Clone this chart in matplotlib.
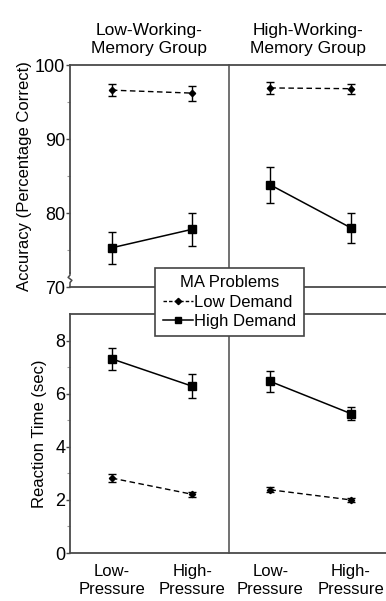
import numpy as np
import matplotlib.pyplot as plt
from matplotlib.lines import Line2D

plt.rcParams['font.family'] = ['Liberation Sans', 'DejaVu Sans']
plt.rcParams['font.size'] = 12

# Data
groups = ['Low-Working-\nMemory Group', 'High-Working-\nMemory Group']
conditions = ['Low-\nPressure', 'High-\nPressure']

# Accuracy (percentage correct), [low wm group, high wm group]
acc_low_demand = [[96.6, 96.2], [96.9, 96.8]]
acc_low_demand_err = [[0.8, 1.0], [0.8, 0.7]]
acc_high_demand = [[75.3, 77.8], [83.8, 78.0]]
acc_high_demand_err = [[2.2, 2.2], [2.4, 2.0]]

# Reaction time (sec)
rt_low_demand = [[2.82, 2.21], [2.38, 2.00]]
rt_low_demand_err = [[0.15, 0.10], [0.10, 0.08]]
rt_high_demand = [[7.31, 6.28], [6.46, 5.25]]
rt_high_demand_err = [[0.41, 0.45], [0.38, 0.25]]

x = np.arange(len(conditions))
spine_col = '#4a4a4a'

fig = plt.figure(figsize=(3.86, 6.01), dpi=100)

# panel boxes in figure coordinates
left0 = 70 / 386
pw = 158.5 / 386
top_box = (1 - 287 / 601, (287 - 65) / 601)
bot_box = (1 - 553 / 601, (553 - 314) / 601)

axes = {}
for row, (b, h) in enumerate([top_box, bot_box]):
    for col in range(2):
        ax = fig.add_axes([left0 + col * pw, b, pw, h])
        axes[(row, col)] = ax


def style(ax, col):
    ax.set_xlim(-0.52, 1.45)
    for s in ['top', 'bottom', 'left']:
        ax.spines[s].set_color(spine_col)
        ax.spines[s].set_linewidth(1.3)
    ax.spines['right'].set_visible(False)
    ax.tick_params(axis='x', length=0)
    ax.tick_params(axis='y', which='major', length=3, width=1, color=spine_col,
                   pad=0.5, labelsize=13)
    ax.tick_params(axis='y', which='minor', length=2.5, width=0.8, color='#999999')
    if col == 1:
        ax.spines['left'].set_color('#666666')
        ax.tick_params(axis='y', which='both', length=0, labelleft=False)


def draw(ax, low, low_err, high, high_err):
    ax.errorbar(x, low, yerr=low_err, color='black', ls=(0, (4, 2.5)), lw=1,
                marker='D', ms=3.2, capsize=3, elinewidth=1, capthick=1)
    ax.errorbar(x, high, yerr=high_err, color='black', ls='-', lw=1.1,
                marker='s', ms=5.5, capsize=3, elinewidth=1, capthick=1)


# Accuracy row
for g in range(2):
    ax = axes[(0, g)]
    draw(ax, acc_low_demand[g], acc_low_demand_err[g],
         acc_high_demand[g], acc_high_demand_err[g])
    ax.set_ylim(70, 100)
    ax.set_yticks([70, 80, 90, 100])
    ax.set_yticks([75, 85, 95], minor=True)
    ax.set_xticks([])
    style(ax, g)
    ax.set_title(groups[g], fontsize=12.5, pad=9, linespacing=1.2)

axes[(0, 0)].set_ylabel('Accuracy (Percentage Correct)', labelpad=2)

# axis break near the bottom of the accuracy scale
ax = axes[(0, 0)]
ax.spines['left'].set_bounds(71.9, 100)
ax.plot([0, 0, 0.012, -0.012, 0, 0],
        [70, 70.6, 70.9, 71.3, 71.6, 71.9],
        transform=ax.get_yaxis_transform(), color=spine_col, lw=1.1, clip_on=False)

# Reaction time row
for g in range(2):
    ax = axes[(1, g)]
    draw(ax, rt_low_demand[g], rt_low_demand_err[g],
         rt_high_demand[g], rt_high_demand_err[g])
    ax.set_ylim(0, 9)
    ax.set_yticks([0, 2, 4, 6, 8])
    ax.set_yticks([1, 3, 5, 7], minor=True)
    ax.set_xticks(x)
    ax.set_xticklabels(conditions, linespacing=1.2)
    style(ax, g)
    ax.tick_params(axis='x', pad=8)

axes[(1, 0)].set_ylabel('Reaction Time (sec)', labelpad=6)

# legend
handles = [
    Line2D([], [], color='black', ls=(0, (2.5, 1.5)), lw=1, marker='D', ms=3.2),
    Line2D([], [], color='black', ls='-', lw=1.1, marker='s', ms=5),
]
leg = fig.legend(handles, ['Low Demand', 'High Demand'], title='MA Problems',
                 loc='center', bbox_to_anchor=(229.5 / 386, 1 - 302 / 601),
                 bbox_transform=fig.transFigure, fontsize=12, title_fontsize=12,
                 frameon=True, fancybox=False, framealpha=1, edgecolor='#444444',
                 handlelength=1.8, handletextpad=0.1, labelspacing=0.25,
                 borderpad=0.45, borderaxespad=0)
leg.get_frame().set_linewidth(1.2)

plt.savefig('out.png', dpi=100)
